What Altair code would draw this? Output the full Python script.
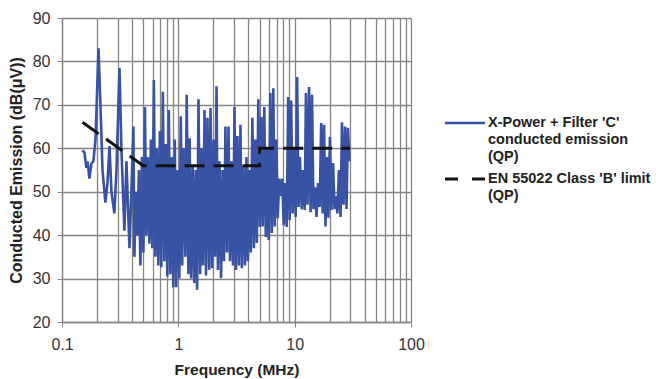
import altair as alt
import pandas as pd

# ---- data ----
early_freq = [0.150, 0.156, 0.162, 0.166, 0.172, 0.179, 0.186, 0.194, 0.206, 0.214,
              0.223, 0.236, 0.246, 0.256, 0.266, 0.282, 0.294, 0.312, 0.324, 0.344,
              0.358, 0.380, 0.395, 0.411]
early_db = [59.5, 59, 55.5, 57, 53, 56.5, 57, 62, 83, 70,
            55, 47.5, 52, 60.5, 50, 45, 55, 78.5, 60, 41,
            57, 37, 50, 65]

main_freq = [0.419, 0.432, 0.445, 0.458, 0.472, 0.486, 0.501, 0.516, 0.531, 0.547,
             0.564, 0.581, 0.598, 0.616, 0.635, 0.654, 0.673, 0.694, 0.714, 0.736,
             0.758, 0.781, 0.804, 0.828, 0.853, 0.879, 0.905, 0.932, 0.960, 0.989,
             1.02, 1.05, 1.08, 1.11, 1.15, 1.18, 1.22, 1.25, 1.29, 1.33,
             1.37, 1.41, 1.45, 1.49, 1.54, 1.58, 1.63, 1.68, 1.73, 1.78,
             1.84, 1.89, 1.95, 2.01, 2.07, 2.13, 2.19, 2.26, 2.33, 2.40,
             2.47, 2.54, 2.62, 2.70, 2.78, 2.86, 2.95, 3.04, 3.13, 3.22,
             3.32, 3.42, 3.52, 3.63, 3.74, 3.85, 3.96, 4.08, 4.20, 4.33,
             4.46, 4.59, 4.73, 4.87, 5.02, 5.17, 5.32, 5.48, 5.65, 5.82,
             5.99, 6.17, 6.36, 6.55, 6.74, 6.95, 7.15, 7.37, 7.59, 7.82,
             8.05, 8.29, 8.54, 8.80, 9.06, 9.33, 9.61, 9.90, 10.2, 10.5,
             10.8, 11.1, 11.5, 11.8, 12.2, 12.5, 12.9, 13.3, 13.7, 14.1,
             14.5, 15.0, 15.4, 15.9, 16.4, 16.9, 17.4, 17.9, 18.4, 19.0,
             19.5, 20.1, 20.7, 21.4, 22.0, 22.7, 23.3, 24.0, 24.8, 25.5,
             26.3, 27.1, 27.9, 28.7, 29.6]
main_db = [35, 50, 40, 55, 33, 58, 36, 69.5, 40, 58,
           38, 62, 37, 75.7, 35, 60, 33, 64, 32.6, 73,
           34, 61, 30.5, 68.8, 31, 58, 28, 62, 28, 55,
           30, 67.4, 33, 60, 35, 72.3, 31, 62.3, 30, 56,
           29, 55, 27.4, 71.3, 31, 60, 33, 68.8, 30.7, 67,
           32, 69.3, 32.4, 62, 35, 74.3, 32, 57, 30.1, 55,
           34, 65, 36, 65, 34, 57, 33, 69.5, 32, 62.8,
           33, 65.4, 32.4, 56, 33, 58, 34, 55, 36, 67,
           37, 62, 38.2, 71.3, 41.9, 67.2, 42, 69.5, 39.6, 60,
           38.9, 72.7, 40.5, 73.8, 42, 62, 43.9, 53, 49, 53,
           42.3, 52, 41.9, 71.8, 43.5, 71, 45, 60, 44.2, 76.4,
           46.5, 58, 46, 55, 45.8, 72.7, 47, 74.1, 45.3, 72.3,
           46, 51, 44.2, 52, 46.5, 65.8, 45, 65.4, 42, 58,
           44, 62.6, 45.8, 56.6, 46, 49, 45, 55, 44.2, 66,
           47, 65, 46, 64.7, 57]

limit_freq = [0.15, 0.5, 5, 5, 30]
limit_db = [66, 56, 56, 60, 60]

x_ticks = [0.1, 0.2, 0.3, 0.4, 0.5, 0.6, 0.7, 0.8, 0.9,
           1, 2, 3, 4, 5, 6, 7, 8, 9,
           10, 20, 30, 40, 50, 60, 70, 80, 90, 100]
y_ticks = [20, 30, 40, 50, 60, 70, 80, 90]

legend_emission = "X-Power + Filter 'C'\nconducted emission\n(QP)"
legend_limit = "EN 55022 Class 'B' limit\n(QP)"

# ---- tables ----
em_f = early_freq + main_freq
em_d = early_db + main_db
emission = pd.DataFrame({"f": em_f, "db": em_d, "o": list(range(len(em_f)))})
limit = pd.DataFrame({"f": limit_freq, "db": limit_db, "o": list(range(len(limit_freq)))})

W, H = 349, 304
GRID = "#858585"
FONT = "Liberation Sans"

x_scale = alt.Scale(type="log", domain=[0.1, 100], nice=False)
y_scale = alt.Scale(domain=[20, 90], nice=False, zero=False)

decade_test = "datum.value == 0.1 || datum.value == 1 || datum.value == 10 || datum.value == 100"

x_axis = alt.Axis(
    values=x_ticks, title="Frequency (MHz)", grid=True, gridColor=GRID, gridWidth=1.3,
    domainColor=GRID, domainWidth=1.3,
    tickColor={"condition": {"test": decade_test, "value": GRID}, "value": "transparent"},
    tickSize=5, labelPadding=9, labelFontSize=16, labelFont=FONT, labelColor="#333333",
    labelExpr=f"({decade_test}) ? datum.label : ''", labelOverlap=False, labelFlush=False,
    format="~g", titleFont=FONT, titleFontSize=15.5, titleFontWeight="bold",
    titleColor="#222222", titlePadding=10,
)
y_axis = alt.Axis(
    values=y_ticks, title="Conducted Emission (dB(μV))", grid=True, gridColor=GRID,
    gridWidth=1.3, domainColor=GRID, domainWidth=1.3, tickColor=GRID, tickSize=5,
    labelPadding=7, labelFontSize=16, labelFont=FONT, labelColor="#333333",
    titleFont=FONT, titleFontSize=16, titleFontWeight="bold", titleColor="#222222",
    titlePadding=8,
)

em_line = alt.Chart(emission).mark_line(color="#3953a4", strokeWidth=2.6, strokeJoin="miter").encode(
    x=alt.X("f:Q", scale=x_scale, axis=x_axis),
    y=alt.Y("db:Q", scale=y_scale, axis=y_axis),
    order="o:Q",
)
lim_line = alt.Chart(limit).mark_line(color="#111111", strokeWidth=3, strokeDash=[20, 9]).encode(
    x=alt.X("f:Q", scale=x_scale),
    y=alt.Y("db:Q", scale=y_scale),
    order="o:Q",
)

# ---- legend (drawn to the right of the plot) ----
leg1 = pd.DataFrame({"t": [legend_emission]})
leg2 = pd.DataFrame({"t": [legend_limit]})
sym1 = alt.Chart(leg1).mark_rule(color="#3953a4", strokeWidth=2.5).encode(
    x=alt.value(383), x2=alt.value(423), y=alt.value(105))
sym2 = alt.Chart(leg2).mark_rule(color="#111111", strokeWidth=3, strokeDash=[13, 14]).encode(
    x=alt.value(383), x2=alt.value(423), y=alt.value(161))
txt_style = dict(align="left", baseline="top", font=FONT, fontSize=14.5, fontWeight="bold",
                 color="#222222", lineBreak="\n", lineHeight=17)
txt1 = alt.Chart(leg1).mark_text(**txt_style).encode(
    x=alt.value(426), y=alt.value(98), text="t:N")
txt2 = alt.Chart(leg2).mark_text(**txt_style).encode(
    x=alt.value(426), y=alt.value(154), text="t:N")

chart = alt.layer(em_line, lim_line, sym1, sym2, txt1, txt2).properties(
    width=W, height=H,
    autosize=alt.AutoSizeParams(type="none"),
    padding={"left": 62, "top": 18, "right": 656 - 62 - W, "bottom": 379 - 18 - H},
).configure_view(stroke=GRID, strokeWidth=1.3).configure(background="white")

chart.save("out.html", embed_options={"renderer": "svg", "actions": False})
